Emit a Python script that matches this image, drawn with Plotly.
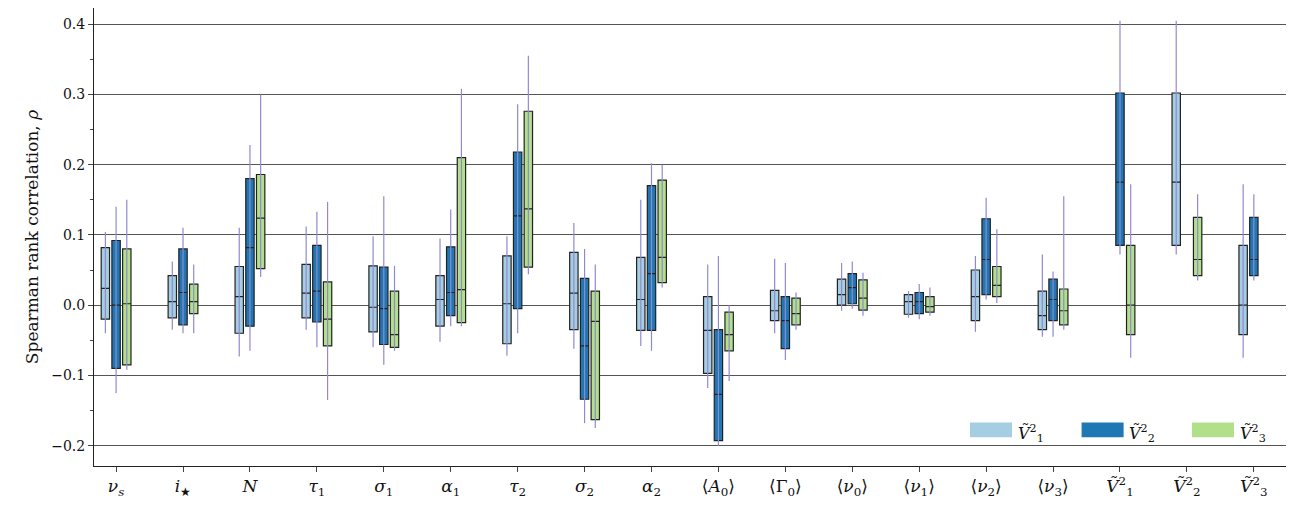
import plotly.graph_objects as go

categories = ["<i>ν<sub>s</sub></i>", "<i>i</i><sub>★</sub>", "<i>N</i>", "<i>τ</i><sub>1</sub>",
              "<i>σ</i><sub>1</sub>", "<i>α</i><sub>1</sub>", "<i>τ</i><sub>2</sub>", "<i>σ</i><sub>2</sub>",
              "<i>α</i><sub>2</sub>", "⟨<i>A</i><sub>0</sub>⟩", "⟨Γ<sub>0</sub>⟩", "⟨<i>ν</i><sub>0</sub>⟩",
              "⟨<i>ν</i><sub>1</sub>⟩", "⟨<i>ν</i><sub>2</sub>⟩", "⟨<i>ν</i><sub>3</sub>⟩",
              "<i>Ṽ</i><sup>2</sup><sub>1</sub>", "<i>Ṽ</i><sup>2</sup><sub>2</sub>", "<i>Ṽ</i><sup>2</sup><sub>3</sub>"]
series_names = ["<i>Ṽ</i><sup>2</sup><sub>1</sub>", "<i>Ṽ</i><sup>2</sup><sub>2</sub>", "<i>Ṽ</i><sup>2</sup><sub>3</sub>"]

# (low whisker, q1, median, q3, high whisker); None = not shown
v1 = [(-0.04, -0.02, 0.024, 0.082, 0.104), (-0.035, -0.018, 0.005, 0.042, 0.062),
      (-0.073, -0.04, 0.012, 0.055, 0.11), (-0.035, -0.018, 0.017, 0.058, 0.112),
      (-0.06, -0.038, -0.003, 0.056, 0.098), (-0.052, -0.03, 0.008, 0.042, 0.095),
      (-0.072, -0.055, 0.002, 0.07, 0.098), (-0.062, -0.035, 0.017, 0.075, 0.117),
      (-0.058, -0.036, 0.008, 0.068, 0.15), (-0.118, -0.097, -0.036, 0.012, 0.058),
      (-0.04, -0.022, -0.008, 0.021, 0.066), (-0.008, 0.0, 0.015, 0.037, 0.06),
      (-0.018, -0.013, 0.005, 0.015, 0.02), (-0.038, -0.022, 0.012, 0.05, 0.07),
      (-0.045, -0.035, -0.015, 0.02, 0.072), None,
      (0.072, 0.085, 0.175, 0.302, 0.405), (-0.075, -0.042, 0.0, 0.085, 0.172)]
v2 = [(-0.125, -0.09, 0.0, 0.092, 0.14), (-0.04, -0.028, 0.018, 0.08, 0.11),
      (-0.065, -0.03, 0.082, 0.18, 0.228), (-0.06, -0.024, 0.02, 0.085, 0.133),
      (-0.085, -0.056, -0.005, 0.054, 0.155), (-0.03, -0.015, 0.018, 0.083, 0.136),
      (-0.04, -0.005, 0.127, 0.218, 0.286), (-0.168, -0.134, -0.058, 0.038, 0.08),
      (-0.065, -0.036, 0.045, 0.17, 0.202), (-0.2, -0.193, -0.127, -0.035, 0.07),
      (-0.078, -0.062, -0.022, 0.012, 0.06), (-0.005, 0.002, 0.025, 0.045, 0.062),
      (-0.02, -0.012, 0.005, 0.018, 0.03), (0.008, 0.015, 0.065, 0.123, 0.153),
      (-0.045, -0.022, 0.008, 0.037, 0.048), (0.072, 0.085, 0.175, 0.302, 0.405),
      None, (0.035, 0.042, 0.065, 0.125, 0.158)]
v3 = [(-0.092, -0.085, 0.002, 0.08, 0.15), (-0.04, -0.012, 0.005, 0.03, 0.058),
      (0.04, 0.052, 0.124, 0.186, 0.3), (-0.135, -0.058, -0.02, 0.033, 0.147),
      (-0.065, -0.06, -0.042, 0.02, 0.056), (-0.03, -0.025, 0.022, 0.21, 0.308),
      (0.044, 0.054, 0.137, 0.276, 0.355), (-0.175, -0.163, -0.023, 0.02, 0.058),
      (0.025, 0.032, 0.068, 0.178, 0.2), (-0.108, -0.065, -0.042, -0.01, 0.0),
      (-0.035, -0.028, -0.012, 0.01, 0.018), (-0.015, -0.007, 0.01, 0.036, 0.046),
      (-0.015, -0.01, -0.002, 0.012, 0.025), (0.003, 0.012, 0.028, 0.055, 0.108),
      (-0.035, -0.028, -0.008, 0.023, 0.155), (-0.075, -0.042, 0.0, 0.085, 0.172),
      (0.035, 0.042, 0.065, 0.125, 0.158), None]

colors = ["#a6cee3", "#1f78b4", "#b2df8a"]
offsets = [-0.16, 0.0, 0.16]
FONT = "DejaVu Serif"

fig = go.Figure()
for series, off in zip([v1, v2, v3], offsets):
    wx, wy = [], []
    for i, s in enumerate(series):
        if s is None:
            continue
        wx += [i + off, i + off, None]
        wy += [s[0], s[4], None]
    fig.add_trace(go.Scatter(x=wx, y=wy, mode="lines", line=dict(color="#8f8ad0", width=1.2),
                             showlegend=False, hoverinfo="skip"))

for series, off, col, name in zip([v1, v2, v3], offsets, colors, series_names):
    idx = [i for i, s in enumerate(series) if s is not None]
    fig.add_trace(go.Box(
        x=[i + off for i in idx],
        q1=[series[i][1] for i in idx], median=[series[i][2] for i in idx],
        q3=[series[i][3] for i in idx],
        lowerfence=[series[i][1] for i in idx], upperfence=[series[i][3] for i in idx],
        width=0.125, fillcolor=col, line=dict(color="#222", width=1.2),
        name=name, showlegend=False, hoverinfo="skip"))

# legend patches
leg_x = [0.730, 0.823, 0.915]
for lx, col, name in zip(leg_x, colors, series_names):
    fig.add_shape(type="rect", xref="paper", yref="paper", x0=lx, x1=lx + 0.035,
                  y0=0.063, y1=0.095, fillcolor=col, line=dict(width=0))
    fig.add_annotation(xref="paper", yref="paper", x=lx + 0.038, y=0.072, text=name,
                       showarrow=False, xanchor="left", yanchor="middle",
                       font=dict(family=FONT, size=16, color="#111"))

fig.update_layout(
    width=1294, height=509, plot_bgcolor="white", paper_bgcolor="white",
    margin=dict(l=86, r=8, t=0, b=51),
    font=dict(family=FONT, size=14, color="#111"),
    xaxis=dict(range=[-0.33, 17.6], tickmode="array", tickvals=list(range(len(categories))),
               ticktext=categories, ticks="outside", ticklen=5, showgrid=False, zeroline=False,
               showline=True, linecolor="#222", mirror=True, tickfont=dict(size=17)),
    yaxis=dict(range=[-0.229, 0.423], dtick=0.1, tickformat=".1f", ticks="outside", ticklen=5,
               showgrid=True, gridcolor="#555", gridwidth=1, zeroline=False,
               showline=True, linecolor="#222", mirror="ticks",
               minor=dict(dtick=0.05, ticks="outside", ticklen=3, showgrid=False),
               title=dict(text="Spearman rank correlation, <i>ρ</i>", font=dict(size=17), standoff=8)),
)
fig.write_html("out.html")
